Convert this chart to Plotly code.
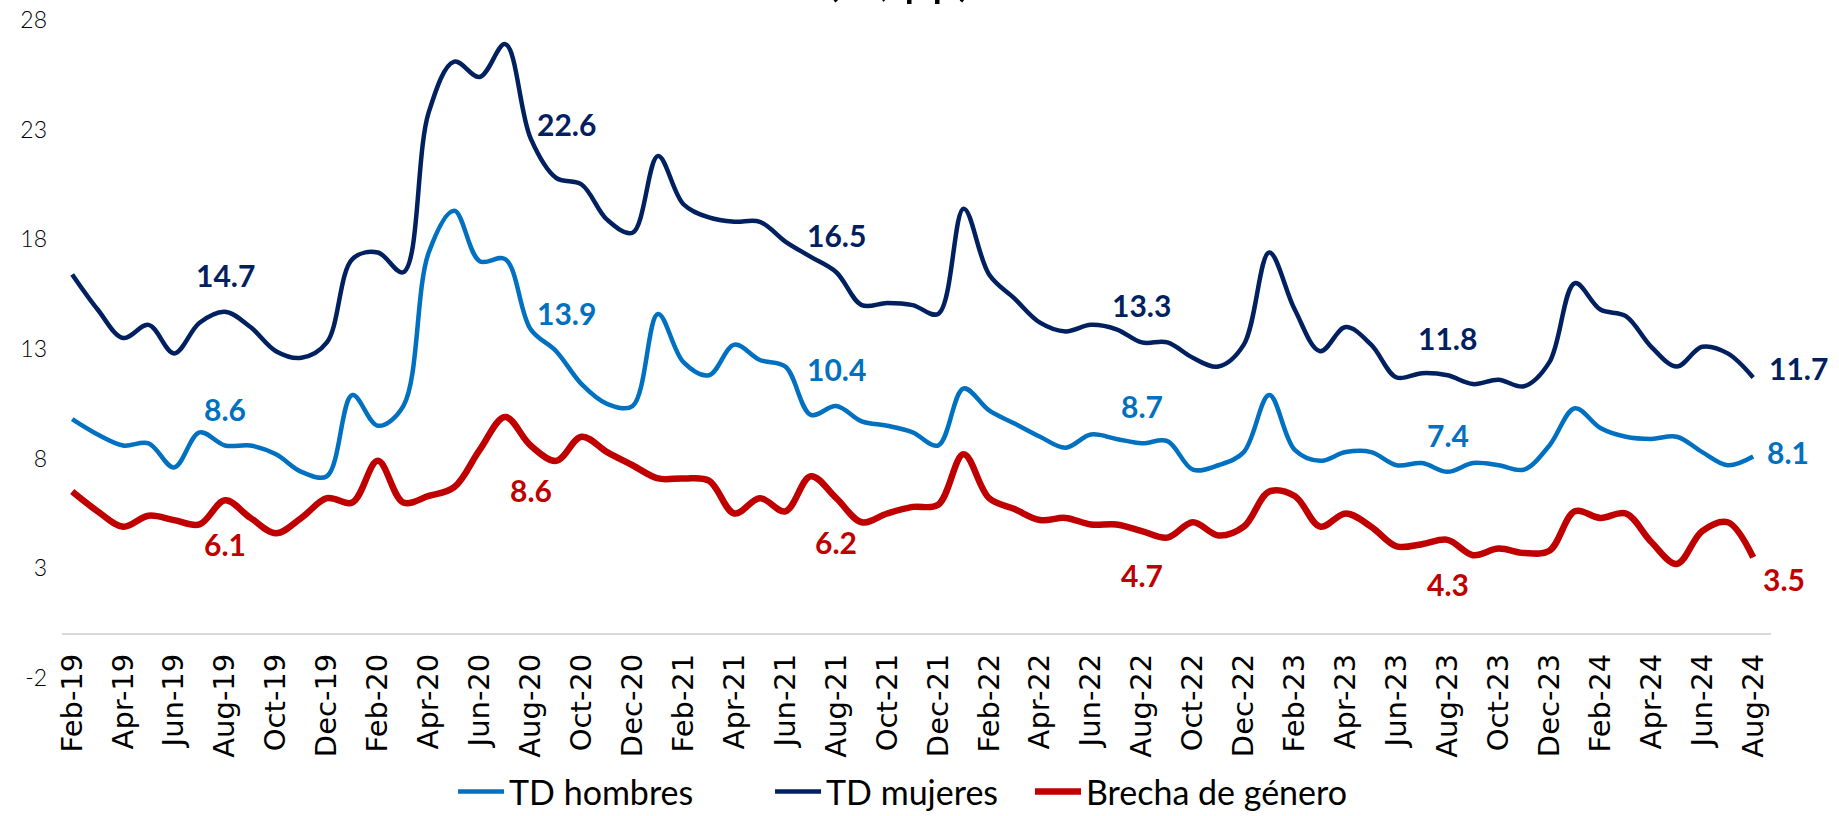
import plotly.graph_objects as go

months = ["Feb-19","Mar-19","Apr-19","May-19","Jun-19","Jul-19","Aug-19","Sep-19","Oct-19","Nov-19","Dec-19",
          "Jan-20","Feb-20","Mar-20","Apr-20","May-20","Jun-20","Jul-20","Aug-20","Sep-20","Oct-20","Nov-20","Dec-20",
          "Jan-21","Feb-21","Mar-21","Apr-21","May-21","Jun-21","Jul-21","Aug-21","Sep-21","Oct-21","Nov-21","Dec-21",
          "Jan-22","Feb-22","Mar-22","Apr-22","May-22","Jun-22","Jul-22","Aug-22","Sep-22","Oct-22","Nov-22","Dec-22",
          "Jan-23","Feb-23","Mar-23","Apr-23","May-23","Jun-23","Jul-23","Aug-23","Sep-23","Oct-23","Nov-23","Dec-23",
          "Jan-24","Feb-24","Mar-24","Apr-24","May-24","Jun-24","Jul-24","Aug-24"]

td_hombres = [9.8, 9.1, 8.6, 8.7, 7.6, 9.2, 8.6, 8.6, 8.2, 7.4, 7.2,
              10.9, 9.5, 10.4, 17.4, 19.3, 17.0, 17.1, 13.9, 12.9, 11.4, 10.5, 10.4,
              14.6, 12.4, 11.8, 13.2, 12.5, 12.2, 10.0, 10.4, 9.7, 9.5, 9.2, 8.6,
              11.2, 10.2, 9.6, 9.0, 8.5, 9.1, 8.9, 8.7, 8.8, 7.5, 7.7, 8.3,
              10.9, 8.4, 7.9, 8.3, 8.3, 7.7, 7.8, 7.4, 7.8, 7.7, 7.5, 8.6,
              10.3, 9.4, 9.0, 8.9, 9.0, 8.3, 7.7, 8.1]

td_mujeres = [16.4, 14.8, 13.5, 14.1, 12.8, 14.2, 14.7, 14.0, 12.9, 12.6, 13.3,
              17.1, 17.4, 16.5, 23.8, 26.1, 25.4, 26.9, 22.6, 20.8, 20.5, 18.9, 18.3,
              21.8, 19.6, 19.0, 18.8, 18.8, 17.9, 17.2, 16.5, 15.0, 15.1, 15.0, 14.6,
              19.4, 16.4, 15.3, 14.2, 13.8, 14.1, 13.9, 13.3, 13.3, 12.6, 12.2, 13.2,
              17.4, 14.8, 12.9, 14.0, 13.2, 11.7, 11.9, 11.8, 11.4, 11.6, 11.3, 12.4,
              16.0, 14.8, 14.5, 13.1, 12.2, 13.1, 12.8, 11.7]

brecha = [6.5, 5.6, 4.9, 5.4, 5.2, 5.0, 6.1, 5.3, 4.6, 5.3, 6.2,
          6.0, 7.9, 6.0, 6.3, 6.7, 8.4, 9.9, 8.6, 7.9, 9.0, 8.3, 7.7,
          7.1, 7.1, 7.0, 5.5, 6.2, 5.6, 7.2, 6.2, 5.1, 5.5, 5.8, 5.9,
          8.2, 6.2, 5.7, 5.2, 5.3, 5.0, 5.0, 4.7, 4.4, 5.1, 4.5, 4.9,
          6.5, 6.3, 4.9, 5.5, 4.9, 4.0, 4.1, 4.3, 3.6, 3.9, 3.7, 3.8,
          5.6, 5.3, 5.5, 4.2, 3.2, 4.7, 5.1, 3.5]

label_idx = [6, 18, 30, 42, 54, 66]
tick_labels = months[::2]
y_ticks = [-2, 3, 8, 13, 18, 23, 28]
y_tick_text = ["-2", "3", "8", "13", "18", "23", "28"]

C_H = "#0070C0"
C_M = "#002060"
C_B = "#C00000"

fig = go.Figure()
fig.add_trace(go.Scatter(x=months, y=td_hombres, name="TD hombres", mode="lines", legend="legend",
                         line=dict(color=C_H, width=4.5, shape="spline", smoothing=1.0)))
fig.add_trace(go.Scatter(x=months, y=td_mujeres, name="TD mujeres", mode="lines", legend="legend2",
                         line=dict(color=C_M, width=4.5, shape="spline", smoothing=1.0)))
fig.add_trace(go.Scatter(x=months, y=brecha, name="Brecha de género", mode="lines", legend="legend3",
                         line=dict(color=C_B, width=6.5, shape="spline", smoothing=1.0)))

lab_font = dict(family="Lato, 'DejaVu Sans', sans-serif", size=30, weight="bold")
annotations = []

def add_labels(series, color, normal_shift, mid_style, end_style):
    for i in label_idx:
        a = dict(x=months[i], y=series[i], xref="x", yref="y", text=f"{series[i]:.1f}",
                 showarrow=False, font=dict(color=color, **lab_font))
        if i == 18 and mid_style is not None:
            a.update(xanchor="left", xshift=mid_style[0], yshift=mid_style[1])
        elif i == 66:
            a.update(xanchor="left", xshift=end_style[0], yshift=end_style[1])
        else:
            a.update(xanchor="center", yshift=normal_shift)
        annotations.append(a)

add_labels(td_mujeres, C_M, 37, (4, 14), (14, 10))
add_labels(td_hombres, C_H, 37, (4, 16), (12, 4))
add_labels(brecha, C_B, -44, None, (8, -22))

annotations.append(dict(x=0.49, y=1, xref="paper", yref="paper", text="(%, pp)", showarrow=False,
                        yanchor="middle", yshift=44,
                        font=dict(family="Lato, sans-serif", size=50, color="#000000")))

leg_common = dict(orientation="h", y=-0.173, yanchor="middle", xanchor="left",
                  font=dict(family="Lato, sans-serif", size=34, color="#000000"),
                  itemwidth=46, bgcolor="rgba(0,0,0,0)")

fig.update_layout(
    width=1839, height=816,
    margin=dict(l=62, r=68, t=20, b=138, autoexpand=False),
    paper_bgcolor="white", plot_bgcolor="white",
    showlegend=True,
    legend=dict(x=0.2288, **leg_common),
    legend2=dict(x=0.4143, **leg_common),
    legend3=dict(x=0.5664, **leg_common),
    annotations=annotations,
)

fig.update_xaxes(type="category", categoryorder="array", categoryarray=months,
                 range=[-0.4, 66.7], tickmode="array", tickvals=tick_labels, ticktext=tick_labels,
                 tickangle=-90, ticks="", showgrid=False, zeroline=False,
                 showline=True, linecolor="#D9D9D9", linewidth=2,
                 anchor="free", position=2/30, ticklabelstandoff=7,
                 tickfont=dict(family="'DejaVu Sans', Verdana, sans-serif", size=29, color="#000000"))
fig.update_yaxes(range=[-2, 28], tickmode="array", tickvals=y_ticks, ticktext=y_tick_text, ticks="",
                 showgrid=False, zeroline=False, showline=False, ticklabelstandoff=14,
                 tickfont=dict(family="Lato, sans-serif", size=23, color="#000000", weight=300))

fig.write_html("out.html", config={"displayModeBar": False},
               post_script="document.body.style.margin='0px';document.body.style.overflow='hidden';")
